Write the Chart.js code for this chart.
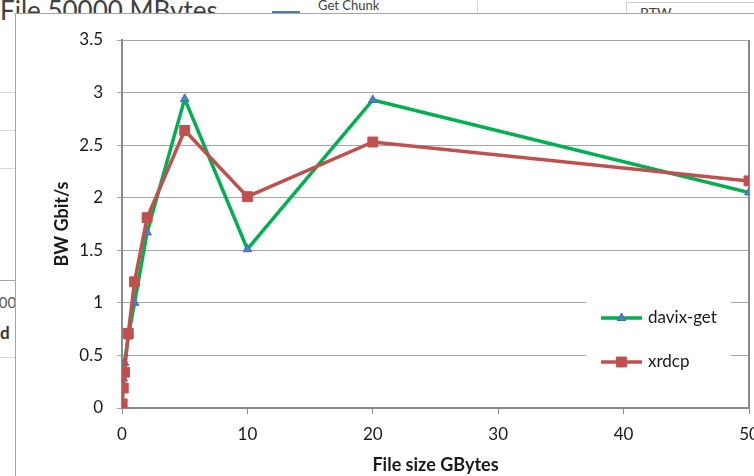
<!DOCTYPE html>
<html><head><meta charset="utf-8">
<script src="https://cdn.jsdelivr.net/npm/chart.js@4"></script>
<style>
html,body{margin:0;padding:0;width:754px;height:476px;overflow:hidden;background:#fff;font-family:Lato,"Open Sans",sans-serif;}
.bg{position:absolute;color:#404040;white-space:nowrap;}
.ln{position:absolute;background:#d9d9d9;height:1px;}
#panel{position:absolute;left:15px;top:13px;width:780px;height:480px;border:1px solid #a6a6a6;background:#fff;}
#c{position:absolute;left:1px;top:0px;}
</style></head><body>
<div class="bg" style="left:0;top:-6px;font-size:26px;">File 50000 MBytes</div>
<div class="bg" style="left:272px;top:11px;width:28px;height:3px;background:#4a7ebb"></div>
<div class="bg" style="left:318px;top:-3px;font-size:13px;">Get Chunk</div>
<div class="bg" style="left:477px;top:0;width:1px;height:14px;background:#d9d9d9"></div>
<div class="bg" style="left:626px;top:2px;width:140px;height:30px;border:1px solid #d0d0d0;"></div>
<div class="bg" style="left:640px;top:4px;font-size:14px;">BTW ...</div>
<div class="ln" style="left:0;top:92px;width:15px"></div>
<div class="ln" style="left:0;top:130px;width:15px"></div>
<div class="ln" style="left:0;top:168px;width:15px"></div>
<div class="ln" style="left:0;top:280px;width:15px;background:#a6a6a6"></div>
<div class="ln" style="left:0;top:357px;width:15px"></div>
<div class="bg" style="left:-10px;top:293px;font-size:15px;color:#595959">000</div>
<div class="bg" style="left:0;top:322px;font-size:17px;font-weight:bold;color:#333">d</div>
<div id="panel"><canvas id="c" width="758" height="462"></canvas></div>
<script>
const fileSizes = [0.01, 0.1, 0.2, 0.5, 1, 2, 5, 10, 20, 50];
const davixGet  = [0.05, 0.28, 0.43, 0.68, 1.0, 1.67, 2.94, 1.51, 2.93, 2.05];
const xrdcp     = [0.04, 0.19, 0.34, 0.71, 1.2, 1.81, 2.64, 2.01, 2.53, 2.16];
const seriesNames = ['davix-get', 'xrdcp'];
const xTicks = [0, 10, 20, 30, 40, 50];
const yTicks = [0, 0.5, 1, 1.5, 2, 2.5, 3, 3.5];
const xTitle = 'File size GBytes';
const yTitle = 'BW Gbit/s';

const FONT = 'Lato, "Open Sans", sans-serif';
const toPts = ys => fileSizes.map((x, i) => ({x: x, y: ys[i]}));

const frame = {
  id: 'frame',
  beforeDatasetsDraw(chart) {
    const a = chart.chartArea, ctx = chart.ctx;
    ctx.save();
    ctx.strokeStyle = '#8a8a8a';
    ctx.lineWidth = 2;
    ctx.beginPath();
    ctx.moveTo(a.right, a.top);
    ctx.lineTo(a.right, a.bottom);
    ctx.stroke();
    ctx.restore();
  },
  afterDatasetsDraw(chart) {
    const a = chart.chartArea, ctx = chart.ctx;
    const right = a.right - 18, left = right - 145;
    const top = a.top + 248, bottom = a.top + 344;
    ctx.save();
    ctx.fillStyle = '#fff';
    ctx.fillRect(left, top, right - left, bottom - top);
    const rows = [a.top + 278, a.top + 322];
    chart.data.datasets.forEach((ds, i) => {
      const y = rows[i];
      const x0 = left + 15, x1 = left + 56;
      ctx.strokeStyle = ds.borderColor;
      ctx.lineWidth = ds.borderWidth;
      ctx.beginPath(); ctx.moveTo(x0, y); ctx.lineTo(x1, y); ctx.stroke();
      ctx.fillStyle = ds.pointBackgroundColor;
      ctx.strokeStyle = ds.pointBorderColor;
      ctx.lineWidth = 1;
      Chart.helpers.drawPoint(ctx, {pointStyle: ds.pointStyle, radius: ds.pointRadius, borderWidth: 1, rotation: 0}, (x0 + x1) / 2, y);
      ctx.fillStyle = '#1a1a1a';
      ctx.font = '17px ' + FONT;
      ctx.textBaseline = 'middle';
      ctx.textAlign = 'left';
      ctx.fillText(ds.label, x1 + 6, y);
    });
    ctx.restore();
  }
};

new Chart(document.getElementById('c'), {
  type: 'scatter',
  data: {
    datasets: [
      {label: seriesNames[0], data: toPts(davixGet), showLine: true, borderColor: '#00b050', borderWidth: 3.5,
       pointStyle: 'triangle', pointRadius: 5, pointBackgroundColor: '#4f81bd', pointBorderColor: '#3d6fb5', pointBorderWidth: 1, order: 2},
      {label: seriesNames[1], data: toPts(xrdcp), showLine: true, borderColor: '#c0504d', borderWidth: 3.5,
       pointStyle: 'rect', pointRadius: 7, pointBackgroundColor: '#c0504d', pointBorderColor: '#c0504d', pointBorderWidth: 1, order: 1}
    ]
  },
  options: {
    responsive: false, animation: false, devicePixelRatio: 1,
    layout: {padding: {top: 26, right: 26, left: 0, bottom: 0}},
    plugins: {legend: {display: false}, tooltip: {enabled: false}},
    scales: {
      x: {
        type: 'linear', min: 0, max: 50,
        afterBuildTicks: s => { s.ticks = xTicks.map(v => ({value: v})); },
        afterFit: s => { s.height = 68; },
        grid: {drawOnChartArea: false, tickLength: 6, color: '#8a8a8a', lineWidth: 1},
        border: {color: '#8a8a8a', width: 2},
        ticks: {padding: 10, color: '#1a1a1a', font: {family: FONT, size: 17}, maxRotation: 0, callback: v => String(v)},
        title: {display: true, text: xTitle, color: '#1a1a1a', font: {family: FONT, size: 18, weight: 'bold'}, padding: {top: 0, bottom: 0}}
      },
      y: {
        type: 'linear', min: 0, max: 3.5,
        afterBuildTicks: s => { s.ticks = yTicks.map(v => ({value: v})); },
        afterFit: s => { s.width = 105; },
        grid: {color: '#a6a6a6', lineWidth: 1, tickLength: 5},
        border: {color: '#8a8a8a', width: 2},
        ticks: {padding: 14, color: '#1a1a1a', font: {family: FONT, size: 17}, callback: v => String(v)},
        title: {display: true, text: yTitle, color: '#1a1a1a', font: {family: FONT, size: 18, weight: 'bold'}, padding: {top: 34, bottom: 0}}
      }
    }
  },
  plugins: [frame]
});
</script>
</body></html>
